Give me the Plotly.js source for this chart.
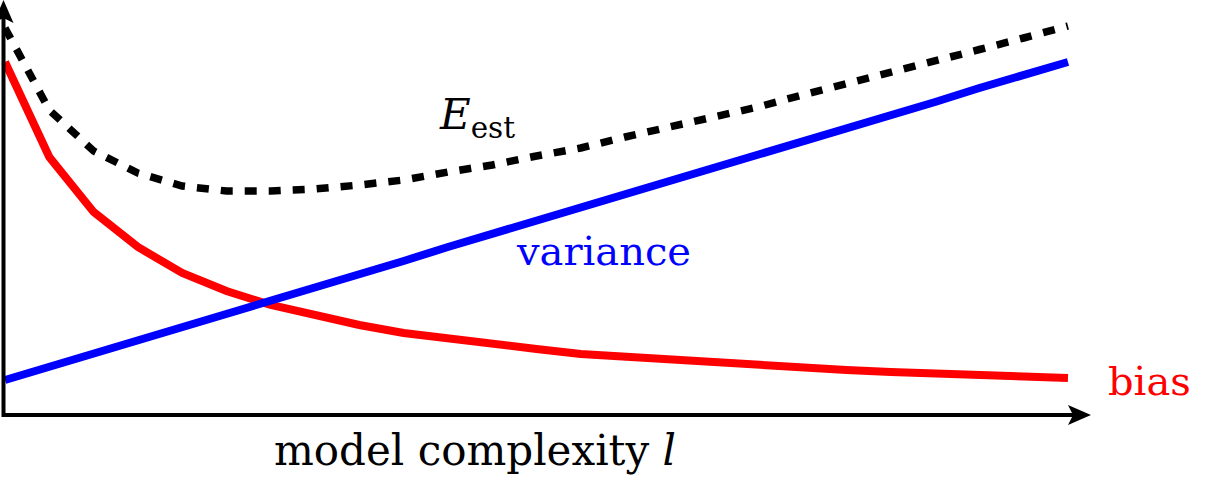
<!DOCTYPE html>
<html>
<head>
<meta charset="utf-8">
<script src="https://cdn.plot.ly/plotly-3.0.1.min.js"></script>
<style>html,body{margin:0;padding:0;background:#fff}#chart{width:1208px;height:493px}</style>
</head>
<body>
<div id="chart"></div>
<script>
// model complexity l (sample points)
const complexity = [0,1,2,3,4,5,6,7,8,9,10,11,12,13,14,15,16,17,18,19,20,21,22,23,24];
// bias (red)
const bias = [3.52,2.57,2.02,1.67,1.41,1.23,1.09,0.98,0.89,0.81,0.75,0.69,0.65,0.60,0.57,0.54,0.51,0.48,0.46,0.44,0.42,0.40,0.385,0.37,0.36];
// variance (blue), straight line
const variance = [0.34,0.47,0.61,0.74,0.87,1.00,1.14,1.27,1.40,1.53,1.67,1.80,1.93,2.06,2.20,2.33,2.46,2.59,2.73,2.86,2.99,3.12,3.26,3.39,3.52];
// estimation error E_est (dashed black)
const estError = [3.86,3.04,2.63,2.41,2.28,2.23,2.23,2.25,2.29,2.34,2.42,2.49,2.58,2.66,2.77,2.87,2.97,3.07,3.19,3.30,3.41,3.52,3.645,3.76,3.88];

const serif = 'DejaVu Serif';
const W = 1208, H = 493;
const px = v => v / W;
const py = v => 1 - v / H;

const traces = [
  {x: complexity, y: bias, mode: 'lines', line: {color: '#ff0000', width: 8}, hoverinfo: 'skip', cliponaxis: false},
  {x: complexity, y: variance, mode: 'lines', line: {color: '#0000ff', width: 8}, hoverinfo: 'skip', cliponaxis: false},
  {x: complexity, y: estError, mode: 'lines', line: {color: '#000000', width: 7.5, dash: '12px,12px'}, hoverinfo: 'skip', cliponaxis: false}
];

const axisLine = {color: '#000000', width: 4};
const shapes = [
  // x axis with arrow
  {type: 'line', xref: 'paper', yref: 'paper', x0: px(2), y0: py(415), x1: px(1078), y1: py(415), line: axisLine},
  {type: 'path', xref: 'paper', yref: 'paper', fillcolor: '#000000', line: {width: 0},
   path: `M${px(1091)},${py(415)} L${px(1068)},${py(405)} L${px(1073)},${py(415)} L${px(1068)},${py(425)} Z`},
  // y axis with arrow
  {type: 'line', xref: 'paper', yref: 'paper', x0: px(3.5), y0: py(417), x1: px(3.5), y1: py(12), line: axisLine},
  {type: 'path', xref: 'paper', yref: 'paper', fillcolor: '#000000', line: {width: 0},
   path: `M${px(3.5)},${py(0)} L${px(-6.5)},${py(23)} L${px(3.5)},${py(18)} L${px(13.5)},${py(23)} Z`}
];

const layout = {
  width: W, height: H,
  margin: {l: 0, r: 0, t: 0, b: 0, pad: 0},
  paper_bgcolor: '#ffffff', plot_bgcolor: '#ffffff',
  showlegend: false,
  xaxis: {range: [-0.1129, 27.161], visible: false, fixedrange: true},
  yaxis: {range: [-0.79, 4.14], visible: false, fixedrange: true},
  shapes: shapes,
  annotations: [
    {x: 10.65, y: 2.97, xref: 'x', yref: 'y', text: '<i>E</i><sub>est</sub>', showarrow: false,
     xanchor: 'center', yanchor: 'middle', font: {family: serif, size: 42, color: '#000000'}},
    {x: 13.51, y: 1.632, xref: 'x', yref: 'y', text: 'variance', showarrow: false,
     xanchor: 'center', yanchor: 'middle', font: {family: serif, size: 40, color: '#0000ff'}},
    {x: 25.83, y: 0.332, xref: 'x', yref: 'y', text: 'bias', showarrow: false,
     xanchor: 'center', yanchor: 'middle', font: {family: serif, size: 40, color: '#ff0000'}},
    {x: 10.61, y: -0.365, xref: 'x', yref: 'y', text: 'model complexity <i>l</i>', showarrow: false,
     xanchor: 'center', yanchor: 'middle', font: {family: serif, size: 42, color: '#000000'}}
  ]
};

Plotly.newPlot('chart', traces, layout, {staticPlot: true, displayModeBar: false});
</script>
</body>
</html>
